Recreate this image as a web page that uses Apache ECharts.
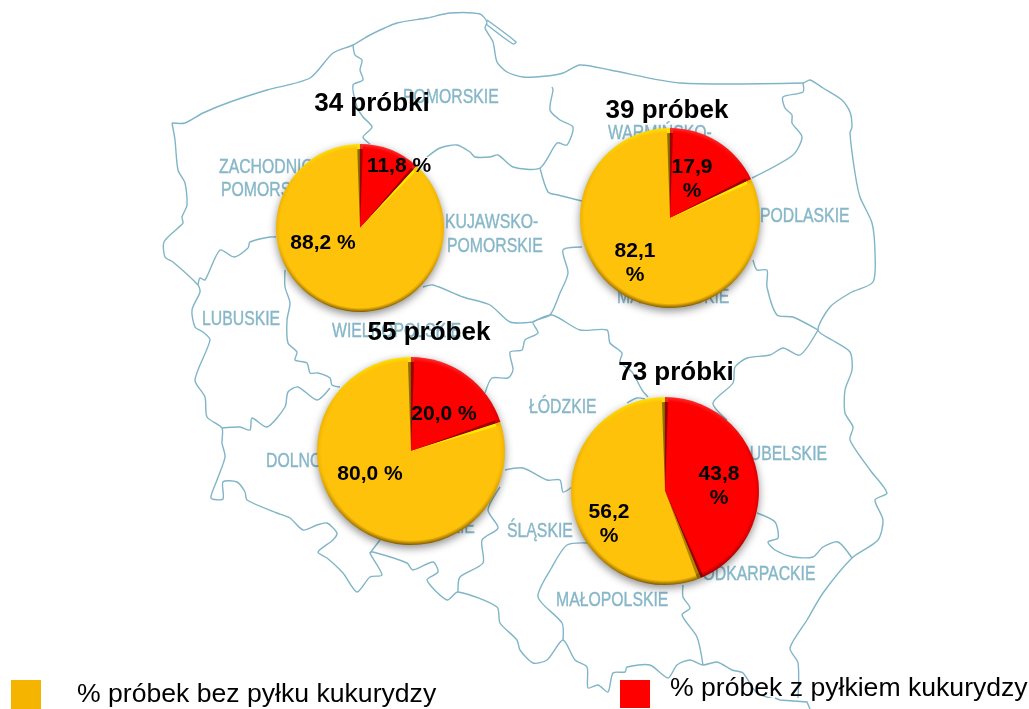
<!DOCTYPE html>
<html>
<head>
<meta charset="utf-8">
<style>
  html, body { margin: 0; padding: 0; background: #fff; overflow: hidden; }
  #chart { width: 1029px; height: 709px; }
</style>
<script src="https://cdn.jsdelivr.net/npm/echarts@6/dist/echarts.min.js"></script>
</head>
<body>
<div id="chart"></div>
<script>
const withName = '% próbek z pyłkiem kukurydzy'
const withoutName = '% próbek bez pyłku kukurydzy'
const sampleTitles = ['34 próbki', '39 próbek', '55 próbek', '73 próbki']
const withPollen = [11.8, 17.9, 20.0, 43.8]
const withoutPollen = [88.2, 82.1, 80.0, 56.2]
// labels that wrap onto two lines in the original
const wrapped = [false, true, false, true]

// layout, px
const pieCenters = [[360, 228], [670, 218], [411, 451], [665, 491]]
const pieRadius = [84, 90, 94, 94]
const titlePos = [[372, 91], [667, 98], [429, 320], [676, 360]]
const withLabelPos = [[399, 166], [692, 179], [444, 414], [719, 486]]
const withoutLabelPos = [[323, 243], [635, 263], [370, 474], [609, 524]]
const seamColors = ['#ffea00', '#ffea00', '#ffea00', '#a88400']

const regionLabels = [
  ['POMORSKIE', 403, 97], ['ZACHODNIO-', 219, 167], ['POMORSKIE', 221, 190],
  ['KUJAWSKO-', 445, 222], ['POMORSKIE', 447, 246], ['LUBUSKIE', 202, 319],
  ['WIELKOPOLSKIE', 332, 331], ['WARMIŃSKO-', 608, 133], ['MAZOWIECKIE', 617, 297],
  ['PODLASKIE', 760, 216], ['ŁÓDZKIE', 529, 407], ['DOLNOŚLĄSKIE', 266, 461],
  ['OPOLSKIE', 395, 527], ['ŚLĄSKIE', 507, 531], ['MAŁOPOLSKIE', 556, 600],
  ['PODKARPACKIE', 692, 574], ['LUBELSKIE', 741, 454]
]

// background map of the voivodeships, traced by hand
const regionBorders = [
  // outline, clockwise from the north-west corner
  [[172,123],[185,123],[203,113],[230,102],[267,90],[310,78],[333,53],[353,45],[370,35],[397,23],[427,18],[450,13],[480,14],[487,22],[485,28],[493,42],[497,62],[507,72],[523,77],[547,76],[563,73],[580,65],[610,70],[680,83],[803,83],[810,80],[823,88],[842,100],[850,112],[852,127],[850,133],[855,173],[860,197],[872,223],[875,253],[873,282],[850,293],[830,307],[818,330],[832,340],[850,352],[852,370],[845,390],[845,413],[853,427],[850,440],[870,470],[887,493],[875,500],[883,520],[878,540],[852,558],[823,593],[807,620],[790,648],[798,663],[798,698]],
  // hel peninsula
  [[487,20],[516,42],[513,44],[486,24]],
  // south border
  [[810,708],[807,702],[780,700],[757,693],[743,673],[732,670],[717,662],[703,665],[690,660],[677,665],[668,678],[650,665],[627,667],[625,672],[613,673],[608,692],[598,685],[588,688],[587,667],[575,660],[563,640],[547,660],[533,663],[520,650],[517,640],[500,623],[497,607],[458,592],[447,600],[427,580],[438,572],[433,562],[413,570],[407,563],[373,552],[370,553],[382,575],[370,577],[357,592],[343,573],[327,558],[318,552],[333,540],[337,533],[327,523],[317,525],[303,530],[290,518],[277,513],[247,500],[245,492],[237,482],[223,482],[223,499],[211,498],[217,480],[225,457],[222,443],[222,428],[207,417],[205,397],[195,380],[210,340],[203,332],[195,327],[192,310],[200,292],[198,285],[173,262],[165,257],[164,242],[178,228],[183,223],[182,217],[187,205],[185,183],[178,170],[175,140],[172,123]],
  // pomorskie / zachodniopomorskie
  [[353,45],[355,55],[362,60],[360,70],[363,80],[353,85],[357,107],[363,117],[372,127],[363,137],[370,144]],
  // pomorskie / kujawskie
  [[427,157],[440,148],[457,145],[470,152],[475,157],[490,157],[498,155],[513,167],[540,168],[557,143],[567,145],[573,127],[560,120],[550,110],[553,90],[552,87]],
  // warmińsko-mazurskie / kujawskie, mazowieckie
  [[540,168],[548,192],[558,195],[582,201]],
  [[582,247],[563,250],[568,273],[560,293],[550,315],[533,322],[538,333],[525,340],[522,350],[510,352],[513,370],[508,378],[492,378],[485,393]],
  // wielkopolskie / kujawskie
  [[533,322],[510,322],[490,305],[463,297],[433,285],[423,287]],
  // zachodniopomorskie / lubuskie
  [[198,285],[200,278],[205,280],[220,250],[234,257],[248,248],[250,242],[270,237],[276,237]],
  // lubuskie / wielkopolskie
  [[285,270],[285,287],[290,303],[287,320],[288,343],[297,352],[295,360],[307,363],[310,373],[318,373],[330,378],[332,385],[340,387]],
  // dolnośląskie / lubuskie
  [[222,428],[240,427],[250,430],[252,418],[267,427],[285,407],[288,392],[298,387],[317,400],[330,388]],
  // warmińsko-mazurskie / podlaskie
  [[803,83],[803,92],[783,97],[785,108],[792,115],[792,123],[802,137],[793,155],[752,178]],
  // mazowieckie / podlaskie
  [[753,260],[757,270],[767,270],[767,287],[777,315],[793,317],[818,330]],
  // mazowieckie / lubelskie
  [[818,330],[800,355],[783,348],[770,355],[747,358],[735,367],[733,383],[713,403],[727,420]],
  // łódzkie / mazowieckie
  [[533,322],[552,315],[580,330],[607,330],[610,343],[622,353],[620,362],[632,372],[642,390],[648,397]],
  [[627,403],[637,398],[645,399]],
  // łódzkie / śląskie
  [[505,470],[523,468],[547,480],[560,480],[563,492],[572,487]],
  // lubelskie / podkarpackie
  [[757,513],[775,522],[778,538],[768,542],[775,550],[793,557],[813,557],[823,547],[838,542],[852,558]],
  // małopolskie / śląskie
  [[588,543],[567,545],[552,567],[538,597],[562,623],[563,640]],
  // małopolskie / podkarpackie
  [[683,585],[683,597],[690,608],[682,615],[697,637],[703,665]],
  // opolskie / śląskie
  [[500,487],[488,510],[498,528],[482,540],[483,563],[460,577],[458,592]],
  // dolnośląskie / opolskie
  [[380,540],[370,553]]
]

const chart = echarts.init(document.getElementById('chart'))

const fmt = (v, i) => v.toFixed(1).replace('.', ',') + (wrapped[i] ? '\n%' : ' %')

function pieData(i, withColor, withoutColor) {
  return [
    { name: withName, value: withPollen[i], itemStyle: { color: withColor } },
    { name: withoutName, value: withoutPollen[i], itemStyle: { color: withoutColor } }
  ]
}

function basePie(i, radius) {
  return {
    type: 'pie',
    center: pieCenters[i],
    radius: [0, radius],
    startAngle: 90,
    clockwise: true,
    animation: false,
    silent: true,
    label: { show: false },
    labelLine: { show: false }
  }
}

const series = []
pieCenters.forEach((c, i) => {
  const r = pieRadius[i]
  const [cx, cy] = c
  const vert = (top, mid, bottom) => ({
    type: 'linear', global: true, x: 0, y: cy - r, x2: 0, y2: cy + r,
    colorStops: [
      { offset: 0, color: top }, { offset: 0.3, color: mid }, { offset: 0.6, color: mid },
      { offset: 1, color: bottom }
    ]
  })
  const fade = color => ({
    type: 'radial', global: true, x: cx, y: cy, r: r,
    colorStops: [
      { offset: 0, color: color }, { offset: 0.95, color: color },
      { offset: 1, color: color === '#ff0000' ? 'rgba(255,0,0,0)' : 'rgba(255,194,10,0)' }
    ]
  })
  const seam = {
    type: 'linear', global: true, x: cx - 6, y: 0, x2: cx + 6, y2: 0,
    colorStops: [
      { offset: 0, color: '#b89000' }, { offset: 0.42, color: '#8a6c00' }, { offset: 0.5, color: '#7a5c00' },
      { offset: 0.55, color: seamColors[i] }, { offset: 1, color: seamColors[i] }
    ]
  }

  // rim with the drop shadow
  const rim = basePie(i, r)
  rim.data = pieData(i, vert('#ff3030', '#e00000', '#8c0000'), vert('#ffe400', '#f0b400', '#7e5800'))
  rim.itemStyle = { shadowBlur: 9, shadowOffsetY: 3, shadowColor: 'rgba(0,0,0,0.45)' }
  series.push(rim)

  // thin bevel showing along the two straight edges
  const edge = basePie(i, r - 5)
  edge.data = pieData(i, '#a00000', seam)
  series.push(edge)

  // flat face, fades out into the rim
  const face = basePie(i, r)
  face.padAngle = 4
  face.data = pieData(i, fade('#ff0000'), fade('#ffc20a'))
  face.label = {
    show: true,
    position: 'inside',
    formatter: p => fmt(p.value, i),
    fontFamily: 'Liberation Sans',
    fontWeight: 'bold',
    fontSize: 21,
    lineHeight: 24,
    color: '#000'
  }
  face.labelLayout = p => {
    const pos = p.dataIndex === 0 ? withLabelPos[i] : withoutLabelPos[i]
    return { x: pos[0], y: pos[1], align: 'center', verticalAlign: 'middle' }
  }
  series.push(face)
})

const mapGraphics = regionBorders.map(points => ({
  type: 'polyline',
  shape: { points: points, smooth: 0.25 },
  style: { fill: 'none', stroke: '#7fb5c7', lineWidth: 1.4, lineJoin: 'round' },
  silent: true
}))

const labelGraphics = regionLabels.map(l => ({
  type: 'text',
  x: l[1],
  y: l[2],
  scaleX: 0.79,
  style: {
    text: l[0],
    x: 0,
    y: 0,
    fill: '#86b7c8',
    stroke: '#86b7c8',
    lineWidth: 0.4,
    font: '20px "Liberation Sans"',
    textAlign: 'left',
    textVerticalAlign: 'middle'
  },
  silent: true
}))

chart.setOption({
  backgroundColor: '#fff',
  animation: false,
  title: sampleTitles.map((t, i) => ({
    text: t,
    left: titlePos[i][0],
    top: titlePos[i][1],
    textAlign: 'center',
    padding: 0,
    textStyle: { fontFamily: 'Liberation Sans', fontWeight: 'bold', fontSize: 26, color: '#000' }
  })),
  legend: [
    {
      data: [withoutName],
      left: 11,
      top: 680,
      padding: 0,
      icon: 'rect',
      itemWidth: 30,
      itemHeight: 29,
      selectedMode: false,
      itemStyle: { color: '#f4b400' },
      textStyle: { fontFamily: 'Liberation Sans', fontSize: 26.6, color: '#000', padding: [0, 0, 0, 31] }
    },
    {
      // text sits higher than the swatch here, so the swatch gets finished off in the graphic below
      data: [withName],
      left: 620,
      top: 675,
      padding: 0,
      icon: 'rect',
      itemWidth: 30,
      itemHeight: 14,
      selectedMode: false,
      itemStyle: { color: '#ff0000' },
      textStyle: { fontFamily: 'Liberation Sans', fontSize: 26.6, color: '#000', padding: [0, 0, 0, 15] }
    }
  ],
  graphic: [
    { type: 'group', z: 0, children: mapGraphics.concat(labelGraphics) },
    {
      // the second legend text is cut off along its bottom edge in the original
      type: 'group',
      z: 20,
      children: [
        { type: 'rect', shape: { x: 620, y: 680, width: 30, height: 28 }, style: { fill: '#ff0000' }, silent: true },
        { type: 'rect', shape: { x: 666, y: 698, width: 363, height: 11 }, style: { fill: '#fff' }, silent: true },
        {
          type: 'polyline',
          shape: { points: [[775, 698], [780, 700], [807, 702], [810, 709]] },
          style: { fill: 'none', stroke: '#7fb5c7', lineWidth: 1.4 },
          silent: true
        }
      ]
    }
  ],
  series: series
})
</script>
</body>
</html>
